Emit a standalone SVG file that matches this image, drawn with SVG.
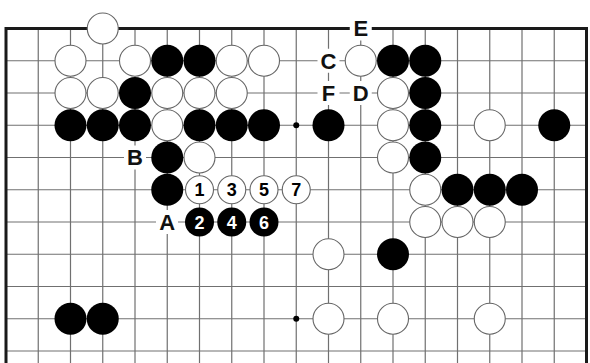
<svg xmlns="http://www.w3.org/2000/svg" width="590" height="363" viewBox="0 0 590 363">
<style>
.grid line{stroke:#707070;stroke-width:1.2}
.edge{stroke:#1a1a1a;stroke-width:3;fill:none}
.w{fill:#fff;stroke:#666;stroke-width:1.1}
.b{fill:#000}
.lbl{font-family:"Liberation Sans",Arial,sans-serif;font-weight:bold;font-size:22px;text-anchor:middle;fill:#111}
.num{font-family:"Liberation Sans",Arial,sans-serif;font-weight:bold;font-size:18px;text-anchor:middle}
.bg{fill:#fff}
</style>
<rect width="590" height="363" fill="#fff"/>
<g id="board">
<g class="grid">
<line x1="38.25" y1="28.5" x2="38.25" y2="363"/>
<line x1="70.5" y1="28.5" x2="70.5" y2="363"/>
<line x1="102.75" y1="28.5" x2="102.75" y2="363"/>
<line x1="135" y1="28.5" x2="135" y2="363"/>
<line x1="167.25" y1="28.5" x2="167.25" y2="363"/>
<line x1="199.5" y1="28.5" x2="199.5" y2="363"/>
<line x1="231.75" y1="28.5" x2="231.75" y2="363"/>
<line x1="264" y1="28.5" x2="264" y2="363"/>
<line x1="296.25" y1="28.5" x2="296.25" y2="363"/>
<line x1="328.5" y1="28.5" x2="328.5" y2="363"/>
<line x1="360.75" y1="28.5" x2="360.75" y2="363"/>
<line x1="393" y1="28.5" x2="393" y2="363"/>
<line x1="425.25" y1="28.5" x2="425.25" y2="363"/>
<line x1="457.5" y1="28.5" x2="457.5" y2="363"/>
<line x1="489.75" y1="28.5" x2="489.75" y2="363"/>
<line x1="522" y1="28.5" x2="522" y2="363"/>
<line x1="554.25" y1="28.5" x2="554.25" y2="363"/>
<line x1="6" y1="60.75" x2="586.5" y2="60.75"/>
<line x1="6" y1="93" x2="586.5" y2="93"/>
<line x1="6" y1="125.25" x2="586.5" y2="125.25"/>
<line x1="6" y1="157.5" x2="586.5" y2="157.5"/>
<line x1="6" y1="189.75" x2="586.5" y2="189.75"/>
<line x1="6" y1="222" x2="586.5" y2="222"/>
<line x1="6" y1="254.25" x2="586.5" y2="254.25"/>
<line x1="6" y1="286.5" x2="586.5" y2="286.5"/>
<line x1="6" y1="318.75" x2="586.5" y2="318.75"/>
<line x1="6" y1="351" x2="586.5" y2="351"/>
</g>
<path class="edge" d="M6 363 V28.5 H586.5 V363"/>
<circle cx="296.25" cy="125.25" r="3" fill="#000"/>
<circle cx="296.25" cy="318.75" r="3" fill="#000"/>
</g>
<g id="stones-white">
<circle class="w" cx="102.75" cy="28.5" r="15.5"/>
<circle class="w" cx="70.5" cy="60.75" r="15.5"/>
<circle class="w" cx="135" cy="60.75" r="15.5"/>
<circle class="w" cx="231.75" cy="60.75" r="15.5"/>
<circle class="w" cx="264" cy="60.75" r="15.5"/>
<circle class="w" cx="70.5" cy="93" r="15.5"/>
<circle class="w" cx="102.75" cy="93" r="15.5"/>
<circle class="w" cx="167.25" cy="93" r="15.5"/>
<circle class="w" cx="199.5" cy="93" r="15.5"/>
<circle class="w" cx="231.75" cy="93" r="15.5"/>
<circle class="w" cx="167.25" cy="125.25" r="15.5"/>
<circle class="w" cx="199.5" cy="157.5" r="15.5"/>
<circle class="w" cx="360.75" cy="60.75" r="15.5"/>
<circle class="w" cx="393" cy="93" r="15.5"/>
<circle class="w" cx="393" cy="125.25" r="15.5"/>
<circle class="w" cx="489.75" cy="125.25" r="15.5"/>
<circle class="w" cx="393" cy="157.5" r="15.5"/>
<circle class="w" cx="425.25" cy="189.75" r="15.5"/>
<circle class="w" cx="425.25" cy="222" r="15.5"/>
<circle class="w" cx="457.5" cy="222" r="15.5"/>
<circle class="w" cx="489.75" cy="222" r="15.5"/>
<circle class="w" cx="328.5" cy="254.25" r="15.5"/>
<circle class="w" cx="328.5" cy="318.75" r="15.5"/>
<circle class="w" cx="393" cy="318.75" r="15.5"/>
<circle class="w" cx="489.75" cy="318.75" r="15.5"/>
</g>
<g id="stones-black">
<circle class="b" cx="167.25" cy="60.75" r="16"/>
<circle class="b" cx="199.5" cy="60.75" r="16"/>
<circle class="b" cx="135" cy="93" r="16"/>
<circle class="b" cx="70.5" cy="125.25" r="16"/>
<circle class="b" cx="102.75" cy="125.25" r="16"/>
<circle class="b" cx="135" cy="125.25" r="16"/>
<circle class="b" cx="199.5" cy="125.25" r="16"/>
<circle class="b" cx="231.75" cy="125.25" r="16"/>
<circle class="b" cx="264" cy="125.25" r="16"/>
<circle class="b" cx="167.25" cy="157.5" r="16"/>
<circle class="b" cx="167.25" cy="189.75" r="16"/>
<circle class="b" cx="393" cy="60.75" r="16"/>
<circle class="b" cx="425.25" cy="60.75" r="16"/>
<circle class="b" cx="425.25" cy="93" r="16"/>
<circle class="b" cx="328.5" cy="125.25" r="16"/>
<circle class="b" cx="425.25" cy="125.25" r="16"/>
<circle class="b" cx="554.25" cy="125.25" r="16"/>
<circle class="b" cx="425.25" cy="157.5" r="16"/>
<circle class="b" cx="457.5" cy="189.75" r="16"/>
<circle class="b" cx="489.75" cy="189.75" r="16"/>
<circle class="b" cx="522" cy="189.75" r="16"/>
<circle class="b" cx="393" cy="254.25" r="16"/>
<circle class="b" cx="70.5" cy="318.75" r="16"/>
<circle class="b" cx="102.75" cy="318.75" r="16"/>
</g>
<g id="move-1"><circle class="w" cx="199.5" cy="189.75" r="14"/><text class="num" x="199.5" y="196.2" fill="#000">1</text></g>
<g id="move-2"><circle class="b" cx="199.5" cy="222" r="14.5"/><text class="num" x="199.5" y="228.5" fill="#fff">2</text></g>
<g id="move-3"><circle class="w" cx="231.75" cy="189.75" r="14"/><text class="num" x="231.75" y="196.2" fill="#000">3</text></g>
<g id="move-4"><circle class="b" cx="231.75" cy="222" r="14.5"/><text class="num" x="231.75" y="228.5" fill="#fff">4</text></g>
<g id="move-5"><circle class="w" cx="264" cy="189.75" r="14"/><text class="num" x="264" y="196.2" fill="#000">5</text></g>
<g id="move-6"><circle class="b" cx="264" cy="222" r="14.5"/><text class="num" x="264" y="228.5" fill="#fff">6</text></g>
<g id="move-7"><circle class="w" cx="296.25" cy="189.75" r="14"/><text class="num" x="296.25" y="196.2" fill="#000">7</text></g>
<g id="label-A"><rect class="bg" x="156" y="210" width="22" height="24"/><text class="lbl" x="167.25" y="229.9">A</text></g>
<g id="label-B"><rect class="bg" x="124" y="145.5" width="22" height="24"/><text class="lbl" x="135" y="165.4">B</text></g>
<g id="label-C"><rect class="bg" x="317.5" y="48.75" width="22" height="24"/><text class="lbl" x="328.5" y="68.6">C</text></g>
<g id="label-D"><rect class="bg" x="349.75" y="81" width="22" height="24"/><text class="lbl" x="360.75" y="100.9">D</text></g>
<g id="label-E"><rect class="bg" x="349.75" y="16.5" width="22" height="24"/><text class="lbl" x="360.75" y="36.4">E</text></g>
<g id="label-F"><rect class="bg" x="317.5" y="81" width="22" height="24"/><text class="lbl" x="328.5" y="100.9">F</text></g>
</svg>
